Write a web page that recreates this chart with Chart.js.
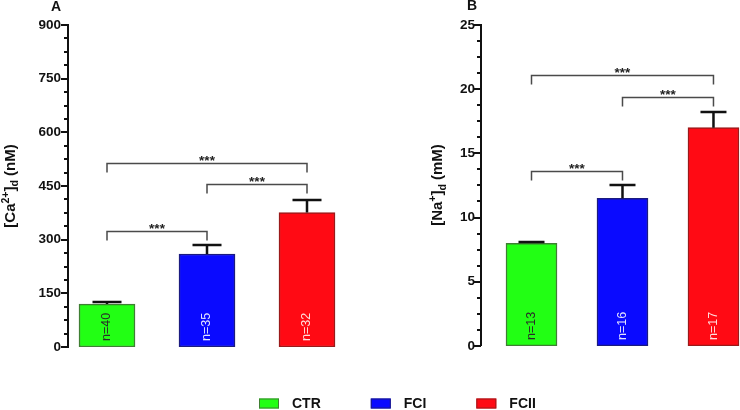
<!DOCTYPE html>
<html>
<head>
<meta charset="utf-8">
<script src="https://cdn.jsdelivr.net/npm/chart.js@4/dist/chart.umd.min.js"></script>
<style>
  html, body { margin: 0; padding: 0; background: #fff; }
  body { width: 740px; height: 410px; overflow: hidden; position: relative; }
  canvas { position: absolute; top: 0; }
  #cvA { left: 0; }
  #cvB { left: 370px; }
</style>
</head>
<body>
<canvas id="cvA" width="740" height="410"></canvas>
<canvas id="cvB" width="420" height="360"></canvas>
<script>
(() => {
    'use strict';

    // ===== Datos =====
    const groups     = ['CTR', 'FCI', 'FCII'];
    const barFill    = ['#22ff14', '#0a0aff', '#ff0a14'];
    const barEdge    = ['#3f7f33', '#1b1b80', '#9a1a1a'];
    const nColors    = ['#2a2a2a', '#e4e4ff', '#ffdede'];

    // Panel A: [Ca2+]d (nM)
    const caMean     = [120, 260, 376];
    const caSem      = [5, 25, 35];
    const caN        = ['n=40', 'n=35', 'n=32'];
    const caPairs    = [[0, 1], [1, 2], [0, 2]];
    const caBracketY = [324, 456, 514];

    // Panel B: [Na+]d (mM)
    const naMean     = [8.0, 11.5, 17.0];
    const naSem      = [0.1, 1.0, 1.25];
    const naN        = ['n=13', 'n=16', 'n=17'];
    const naPairs    = [[0, 1], [1, 2], [0, 2]];
    const naBracketY = [13.6, 19.4, 21.1];

    const sigLabel = '***';
    const FONT = '"Liberation Sans", Arial, Helvetica, sans-serif';

    // ===== Plugin de extras por panel (ticks, error bars, brackets, textos) =====
    function panelPlugin(p) {
        return {
            id: 'panelExtras',
            afterDatasetsDraw(chart) {
                const ctx = chart.ctx;
                const y = chart.scales.y;
                const area = chart.chartArea;
                const bars = chart.getDatasetMeta(0).data;
                ctx.save();

                // ticks mayores / menores
                ctx.strokeStyle = '#111';
                ctx.lineWidth = 2;
                y.ticks.forEach(t => {
                    const py = Math.round(y.getPixelForValue(t.value));
                    const len = (t.value % p.major === 0) ? 7 : 4;
                    ctx.beginPath();
                    ctx.moveTo(area.left - len, py);
                    ctx.lineTo(area.left, py);
                    ctx.stroke();
                });

                // barras de error (solo hacia arriba)
                ctx.lineWidth = 2.5;
                bars.forEach((bar, i) => {
                    const top = y.getPixelForValue(p.mean[i]);
                    const err = Math.round(y.getPixelForValue(p.mean[i] + p.sem[i]));
                    ctx.beginPath();
                    ctx.moveTo(bar.x, top);
                    ctx.lineTo(bar.x, err);
                    ctx.moveTo(bar.x - p.cap / 2, err);
                    ctx.lineTo(bar.x + p.cap / 2, err);
                    ctx.stroke();
                });

                // n= dentro de las barras
                ctx.font = `12.5px ${FONT}`;
                ctx.textAlign = 'left';
                ctx.textBaseline = 'middle';
                bars.forEach((bar, i) => {
                    ctx.save();
                    ctx.translate(bar.x, y.getPixelForValue(0) - 6);
                    ctx.rotate(-Math.PI / 2);
                    ctx.fillStyle = nColors[i];
                    ctx.fillText(p.n[i], 0, 0);
                    ctx.restore();
                });

                // brackets de significancia
                p.pairs.forEach((pr, k) => {
                    const by = Math.round(y.getPixelForValue(p.bracket[k])) + 0.5;
                    const x1 = bars[pr[0]].x, x2 = bars[pr[1]].x;
                    ctx.strokeStyle = '#4a4a4a';
                    ctx.lineWidth = 1.5;
                    ctx.beginPath();
                    ctx.moveTo(x1, by + 9);
                    ctx.lineTo(x1, by);
                    ctx.lineTo(x2, by);
                    ctx.lineTo(x2, by + 9);
                    ctx.stroke();
                    ctx.fillStyle = '#222';
                    ctx.font = `bold 13.5px ${FONT}`;
                    ctx.textAlign = 'center';
                    ctx.textBaseline = 'alphabetic';
                    ctx.fillText(sigLabel, (x1 + x2) / 2, by + 1.5);
                });

                // título del eje Y (con super/subíndice)
                ctx.save();
                ctx.translate(p.titleX, p.titleY);
                ctx.rotate(-Math.PI / 2);
                ctx.fillStyle = '#111';
                ctx.textAlign = 'left';
                ctx.textBaseline = 'alphabetic';
                const fontOf = kind => kind === 'n' ? `bold 15px ${FONT}` : `bold 10.5px ${FONT}`;
                let total = 0;
                p.title.forEach(part => { ctx.font = fontOf(part.k); total += ctx.measureText(part.t).width; });
                let tx = -total / 2;
                p.title.forEach(part => {
                    ctx.font = fontOf(part.k);
                    const dy = part.k === 'sup' ? -6 : (part.k === 'sub' ? 3.5 : 0);
                    ctx.fillText(part.t, tx, dy);
                    tx += ctx.measureText(part.t).width;
                });
                ctx.restore();

                // letra del panel
                ctx.fillStyle = '#111';
                ctx.font = `bold 14px ${FONT}`;
                ctx.textAlign = 'center';
                ctx.textBaseline = 'middle';
                ctx.fillText(p.letter, p.letterX, p.letterY);

                ctx.restore();
            },
            afterDraw(chart) {
                if (!p.legend) return;
                const ctx = chart.ctx;
                ctx.save();
                ctx.font = `bold 14px ${FONT}`;
                ctx.textBaseline = 'middle';
                ctx.textAlign = 'left';
                let lx = 259;
                const ly = 403.5;
                groups.forEach((g, i) => {
                    ctx.fillStyle = barFill[i];
                    ctx.fillRect(lx, ly - 5, 20, 10);
                    ctx.strokeStyle = barEdge[i];
                    ctx.lineWidth = 1;
                    ctx.strokeRect(lx + 0.5, ly - 4.5, 19, 9);
                    ctx.fillStyle = '#111';
                    ctx.fillText(g, lx + 33, ly + 0.5);
                    lx += 33 + ctx.measureText(g).width + 50;
                });
                ctx.restore();
            }
        };
    }

    function buildPanel(canvas, o) {
        return new Chart(canvas.getContext('2d'), {
            type: 'bar',
            data: {
                datasets: [{
                    label: o.letter,
                    data: o.mean.map((v, i) => ({ x: i, y: v })),
                    backgroundColor: barFill,
                    borderColor: barEdge,
                    borderWidth: 1.5,
                    borderSkipped: false,
                    barThickness: o.barWidth
                }]
            },
            options: {
                responsive: false,
                animation: false,
                events: [],
                layout: { padding: o.padding },
                plugins: { legend: { display: false }, tooltip: { enabled: false } },
                scales: {
                    x: { type: 'linear', display: false, offset: false, min: o.xMin, max: o.xMax },
                    y: {
                        min: 0, max: o.max,
                        afterFit: s => { s.width = o.axisWidth; },
                        grid: { display: false, drawTicks: false },
                        border: { display: true, color: '#111', width: 2 },
                        ticks: {
                            stepSize: o.minor, maxTicksLimit: 100, autoSkip: false,
                            padding: o.labelPad, color: '#111',
                            font: { family: FONT, size: 13.5, weight: 'bold' },
                            callback: v => (v % o.major === 0 ? v : '')
                        }
                    }
                }
            },
            plugins: [panelPlugin(o)]
        });
    }

    function boot() {
        buildPanel(document.getElementById('cvA'), {
            letter: 'A', letterX: 56, letterY: 7,
            mean: caMean, sem: caSem, n: caN, pairs: caPairs, bracket: caBracketY,
            max: 900, major: 150, minor: 37.5,
            axisWidth: 68, labelPad: 7, padding: { top: 25, bottom: 63, left: 0, right: 372 },
            xMin: -0.39, xMax: 2.61, barWidth: 56, cap: 29,
            titleX: 14.5, titleY: 186,
            title: [{ t: '[Ca', k: 'n' }, { t: '2+', k: 'sup' }, { t: ']', k: 'n' }, { t: 'd', k: 'sub' }, { t: ' (nM)', k: 'n' }],
            legend: true
        });
        buildPanel(document.getElementById('cvB'), {
            letter: 'B', letterX: 102, letterY: 6,
            mean: naMean, sem: naSem, n: naN, pairs: naPairs, bracket: naBracketY,
            max: 25, major: 5, minor: 1.25,
            axisWidth: 111, labelPad: 6, padding: { top: 25, bottom: 13, left: 0, right: 0 },
            xMin: -0.555, xMax: 2.841, barWidth: 51, cap: 26,
            titleX: 72, titleY: 185,
            title: [{ t: '[Na', k: 'n' }, { t: '+', k: 'sup' }, { t: ']', k: 'n' }, { t: 'd', k: 'sub' }, { t: ' (mM)', k: 'n' }],
            legend: false
        });
    }

    if (document.readyState === 'loading') {
        document.addEventListener('DOMContentLoaded', boot, { once: true });
    } else {
        boot();
    }
})();
</script>
</body>
</html>
